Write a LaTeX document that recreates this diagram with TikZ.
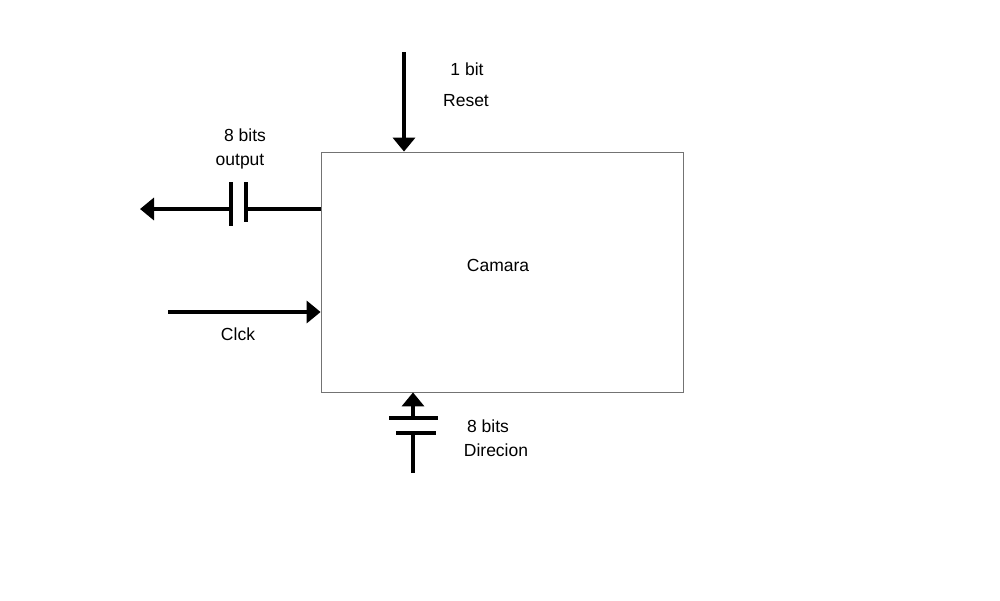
\documentclass[tikz,border=0pt]{standalone}
\usepackage{fontspec}
\setmainfont{Liberation Sans}
\usetikzlibrary{arrows.meta,positioning,calc}
\tikzset{
  >={Triangle[length=14pt,width=22pt]},
  blk/.style={draw=black!55,line width=0.8pt,minimum width=362pt,minimum height=240pt,inner sep=0pt},
  lab/.style={font=\fontsize{17.5}{20}\selectfont,inner sep=0pt},
  sig/.style={line width=4pt},
  plate/.style={line width=4pt},
}
\begin{document}
\begin{tikzpicture}[x=1pt,y=-1pt]
\useasboundingbox (0,0) rectangle (1000,600);
% block
\node[blk] (cam) at (502,272) {};
\node[lab] at (498,265) {Camara};
% reset input
\coordinate (rst) at (404,52);
\draw[sig,->] (rst) -- (rst |- cam.north);
\node[lab] (rstw) at (467,69) {1 bit};
\node[lab] (rstn) at (466,101) {Reset};
% output bus
\coordinate (outa) at (246,209);
\coordinate (outb) at (231,209);
\coordinate (outend) at (140,209);
\draw[sig] (cam.west |- outa) -- (outa);
\draw[sig,->] (outb) -- (outend);
\draw[plate] ($(outa)+(0,-27)$) -- ($(outa)+(0,13)$);
\draw[plate] ($(outb)+(0,-27)$) -- ($(outb)+(0,17)$);
\node[lab] (outw) at (245,135) {8 bits};
\node[lab] (outn) at (240,162) {output};
% clock input
\coordinate (clk) at (168,312);
\draw[sig,->] (clk) -- (clk -| cam.west);
\node[lab] (clkn) at (238,334) {Clck};
% address bus
\coordinate (dira) at (413,418);
\coordinate (dirb) at (413,433);
\coordinate (dirend) at (413,473);
\draw[sig] (dirend) -- (dirb);
\draw[sig,->] (dira) -- (dira |- cam.south);
\draw[plate] (389,418) -- (438,418);
\draw[plate] (396,433) -- (436,433);
\node[lab] (dirw) at (488,426) {8 bits};
\node[lab] (dirn) at (496,450) {Direcion};
\end{tikzpicture}
\end{document}
